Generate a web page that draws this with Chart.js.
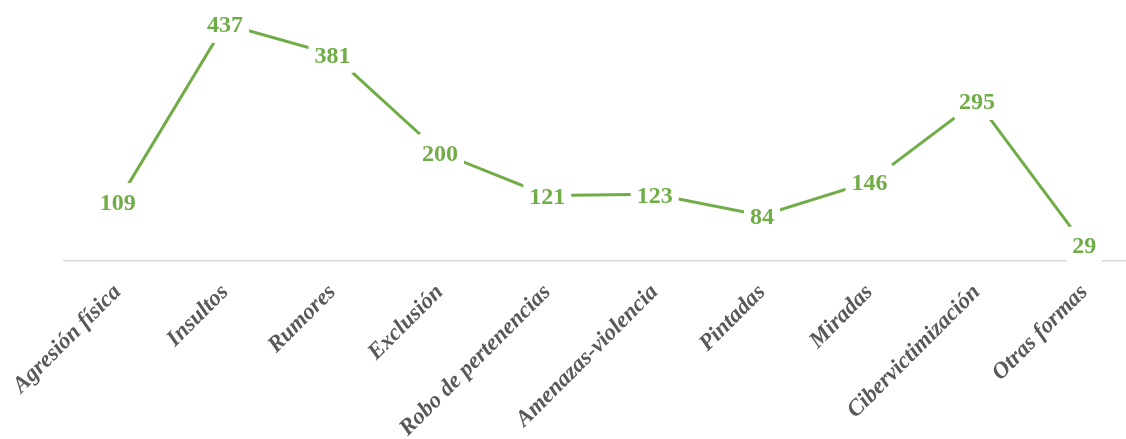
<!DOCTYPE html>
<html>
<head>
<meta charset="utf-8">
<script src="https://cdn.jsdelivr.net/npm/chart.js@4/dist/chart.umd.min.js"></script>
<style>
  html, body { margin: 0; padding: 0; background: #fff; overflow: hidden; }
  #wrap { width: 1140px; height: 439px; }
</style>
</head>
<body>
<div id="wrap"><canvas id="chart" width="1140" height="439"></canvas></div>
<script>
// Data
const categories = [
    'Agresión física', 'Insultos', 'Rumores', 'Exclusión', 'Robo de pertenencias',
    'Amenazas-violencia', 'Pintadas', 'Miradas', 'Cibervictimización', 'Otras formas'
];
const counts = [109, 437, 381, 200, 121, 123, 84, 146, 295, 29];

const GREEN = '#70ad47';
const LABEL_FONT = 'bold 24px "Liberation Serif", "Times New Roman", serif';

// Value labels drawn on a white box that interrupts the line (Excel-style)
const valueLabels = {
    id: 'valueLabels',
    afterDatasetsDraw(chart) {
        const ctx = chart.ctx;
        const meta = chart.getDatasetMeta(0);
        ctx.save();
        ctx.font = LABEL_FONT;
        ctx.textAlign = 'center';
        ctx.textBaseline = 'middle';
        meta.data.forEach((pt, i) => {
            const text = String(counts[i]);
            const w = ctx.measureText(text).width;
            const cy = pt.y + 1;
            ctx.fillStyle = '#ffffff';
            ctx.beginPath();
            ctx.roundRect(pt.x - w / 2 - 6, cy - 20, w + 12, 38, 6);
            ctx.fill();
            ctx.fillStyle = GREEN;
            ctx.fillText(text, pt.x, cy + 1);
        });
        ctx.restore();
    }
};

new Chart(document.getElementById('chart').getContext('2d'), {
    type: 'line',
    data: {
        labels: categories,
        datasets: [{
            data: counts,
            borderColor: GREEN,
            borderWidth: 3,
            pointRadius: 0,
            tension: 0,
            fill: false
        }]
    },
    options: {
        responsive: false,
        animation: false,
        layout: { padding: { left: 64, right: 2, top: 17, bottom: 0 } },
        plugins: {
            legend: { display: false },
            tooltip: { enabled: false }
        },
        scales: {
            x: {
                offset: true,
                grid: { display: false },
                border: { display: true, color: '#d9d9d9', width: 1.5 },
                ticks: {
                    color: '#595959',
                    font: { family: '"Liberation Serif", "Times New Roman", serif', size: 23, style: 'italic', weight: 'bold' },
                    maxRotation: 45,
                    minRotation: 45,
                    autoSkip: false,
                    padding: 10
                },
                afterFit: s => {
                    s.height = 178;
                    s.paddingLeft = 0;
                    s.paddingRight = 0;
                }
            },
            y: {
                display: false,
                min: 0,
                max: 450
            }
        }
    },
    plugins: [valueLabels]
});
</script>
</body>
</html>
